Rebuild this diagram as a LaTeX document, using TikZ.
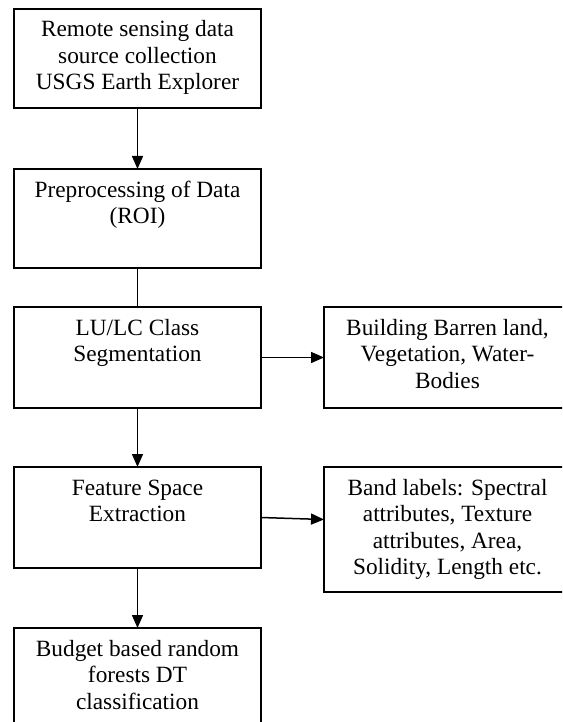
\documentclass[tikz,border=0pt]{standalone}
\usepackage{fontspec}
\setmainfont{Liberation Serif}
\usepackage{tikz}
\usetikzlibrary{positioning}
\usetikzlibrary{arrows.meta}
\usetikzlibrary{calc}

\newcommand{\stagefont}{\fontsize{23.3}{26.5}\selectfont}
\newcommand{\stagetext}[2]{\parbox[c][#1pt][t]{240pt}{\centering\rule{0pt}{28pt}#2}}

\begin{document}
\begin{tikzpicture}[x=1pt, y=-1pt,
	stage/.style = {draw, line width=1.6pt, inner sep=0pt, outer sep=0pt, minimum width=247pt, anchor=north west, font=\stagefont},
	flow/.style = {line width=1.5pt, -{Triangle[width=11pt,length=13pt]}}]
\clip (0,0) rectangle (562,722);

\node[stage] (stage0) at (14,9) {\stagetext{99}{Remote sensing data\\source collection\\USGS Earth Explorer}};
\node[stage] (stage1) at (14,169) {\stagetext{99}{Preprocessing of Data\\(ROI)}};
\node[stage] (stage2) at (14,307) {\stagetext{101}{LU/LC Class\\Segmentation}};
\node[stage] (stage3) at (14,467) {\stagetext{101}{Feature Space\\Extraction}};
\node[stage] (stage4) at (14,628) {\stagetext{100}{Budget based random\\forests DT\\classification}};

\node[stage] (out0) at ($(stage2.north west)+(310,0)$) {\stagetext{101}{Building Barren land,\\Vegetation, Water-\\Bodies}};
\node[stage] (out1) at ($(stage3.north west)+(310,0)$) {\stagetext{125}{Band labels: Spectral\\attributes, Texture\\attributes, Area,\\Solidity, Length etc.}};

\draw[flow] (stage0) -- (stage1);
\draw[line width=1.5pt] (stage1) -- (stage2);
\draw[flow] (stage2) -- (stage3);
\draw[flow] (stage3) -- (stage4);
\draw[flow] (stage2.east) -- (out0.west |- stage2.east);
\draw[flow] (stage3.east) -- ([yshift=-2pt]out1.west |- stage3.east);
\end{tikzpicture}
\end{document}
